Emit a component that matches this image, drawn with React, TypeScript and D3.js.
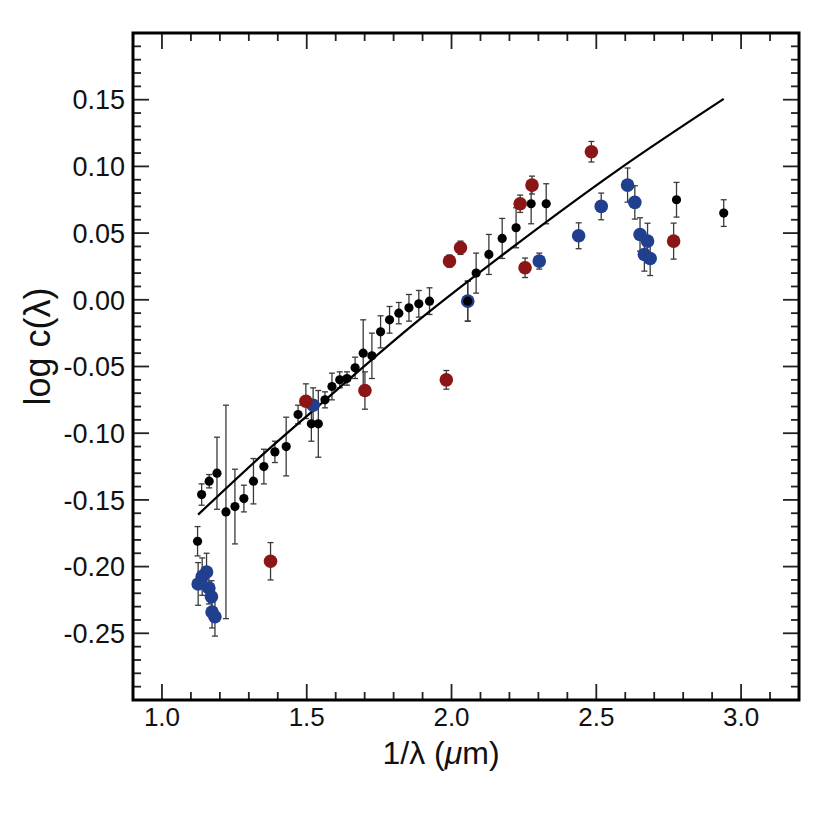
import { useEffect, useRef } from 'react';
import * as d3 from 'd3';

// black points: 1/lambda, log c, error
const blackX = [1.123, 1.137, 1.163, 1.19, 1.221, 1.252, 1.283, 1.316, 1.352, 1.39, 1.429, 1.47, 1.516, 1.54, 1.563, 1.587, 1.614, 1.639, 1.667, 1.695, 1.725, 1.755, 1.786, 1.818, 1.853, 1.887, 1.924, 2.056, 2.085, 2.129, 2.175, 2.223, 2.275, 2.327, 2.777, 2.94];
const blackY = [-0.181, -0.146, -0.136, -0.13, -0.159, -0.155, -0.149, -0.136, -0.125, -0.114, -0.11, -0.086, -0.093, -0.093, -0.075, -0.065, -0.06, -0.059, -0.051, -0.04, -0.042, -0.024, -0.015, -0.01, -0.006, -0.003, -0.001, -0.001, 0.02, 0.034, 0.046, 0.054, 0.072, 0.072, 0.075, 0.065];
const blackErr = [0.011, 0.008, 0.005, 0.027, 0.08, 0.028, 0.01, 0.017, 0.013, 0.008, 0.022, 0.007, 0.013, 0.025, 0.006, 0.01, 0.006, 0.005, 0.008, 0.025, 0.017, 0.012, 0.01, 0.008, 0.01, 0.01, 0.01, 0.015, 0.015, 0.015, 0.015, 0.015, 0.015, 0.015, 0.013, 0.01];

const redX = [1.375, 1.497, 1.701, 1.982, 1.993, 2.031, 2.237, 2.254, 2.278, 2.483, 2.767];
const redY = [-0.196, -0.076, -0.068, -0.06, 0.029, 0.039, 0.072, 0.024, 0.086, 0.111, 0.044];
const redErr = [0.014, 0.013, 0.014, 0.007, 0.0045, 0.005, 0.0065, 0.0073, 0.0067, 0.0077, 0.0135];

const blueX = [1.125, 1.139, 1.154, 1.162, 1.171, 1.173, 1.183, 1.522, 2.056, 2.303, 2.439, 2.517, 2.608, 2.633, 2.651, 2.666, 2.677, 2.686];
const blueY = [-0.213, -0.2075, -0.204, -0.216, -0.2226, -0.234, -0.2376, -0.079, -0.001, 0.029, 0.048, 0.07, 0.086, 0.073, 0.049, 0.034, 0.044, 0.031];
const blueErr = [0.016, 0.014, 0.014, 0.012, 0.012, 0.012, 0.0145, 0.013, 0.015, 0.006, 0.0097, 0.01, 0.0128, 0.0125, 0.0125, 0.0125, 0.0134, 0.0128];

// model curve
const modelX = [1.125, 1.361, 1.533, 1.891, 2.166, 2.579, 2.94];
const modelY = [-0.161, -0.1135, -0.081, -0.0145, 0.032, 0.098, 0.1506];

const xTickLabels = ['1.0', '1.5', '2.0', '2.5', '3.0'];
const yTickLabels = ['0.15', '0.10', '0.05', '0.00', '-0.05', '-0.10', '-0.15', '-0.20', '-0.25'];

const RED = '#8c1616';
const BLUE = '#213f8f';
const FONT = 'Liberation Sans, Arial, Helvetica, sans-serif';

export default function App() {
  const svgRef = useRef<SVGSVGElement>(null);

  useEffect(() => {
    if (!svgRef.current) return;
    const svg = d3.select(svgRef.current);
    svg.selectAll('*').remove();

    const margin = { top: 33, right: 35, bottom: 134, left: 133 };
    const width = 834 - margin.left - margin.right;
    const height = 834 - margin.top - margin.bottom;

    const g = svg.append('g').attr('transform', `translate(${margin.left},${margin.top})`);

    const x = d3.scaleLinear().domain([0.9, 3.2]).range([0, width]);
    const y = d3.scaleLinear().domain([-0.3, 0.2]).range([height, 0]);

    // ticks, inward on all sides
    const ticks = g.append('g').attr('stroke', '#222').attr('stroke-width', 1.8);
    d3.range(9, 32).map((v) => v / 10).forEach((v) => {
      const major = Math.abs(v * 2 - Math.round(v * 2)) < 1e-6;
      const len = major ? 16 : 8;
      const px = x(v);
      if (px <= 1 || px >= width - 1) return;
      ticks.append('line').attr('x1', px).attr('x2', px).attr('y1', height).attr('y2', height - len);
      ticks.append('line').attr('x1', px).attr('x2', px).attr('y1', 0).attr('y2', len);
    });
    d3.range(-30, 21).map((v) => v / 100).forEach((v) => {
      const major = Math.abs(v * 20 - Math.round(v * 20)) < 1e-6;
      const len = major ? 16 : 8;
      const py = y(v);
      if (py <= 1 || py >= height - 1) return;
      ticks.append('line').attr('y1', py).attr('y2', py).attr('x1', 0).attr('x2', len);
      ticks.append('line').attr('y1', py).attr('y2', py).attr('x1', width).attr('x2', width - len);
    });

    // tick labels
    xTickLabels.forEach((t) => {
      g.append('text')
        .attr('x', x(+t))
        .attr('y', height + 26)
        .attr('text-anchor', 'middle')
        .attr('font-family', FONT)
        .attr('font-size', 26)
        .attr('fill', '#111')
        .text(t);
    });
    yTickLabels.forEach((t) => {
      g.append('text')
        .attr('x', -8)
        .attr('y', y(+t))
        .attr('dy', '0.36em')
        .attr('text-anchor', 'end')
        .attr('font-family', FONT)
        .attr('font-size', 27)
        .attr('fill', '#111')
        .text(t);
    });

    // axis titles
    const xt = g.append('text')
      .attr('x', width / 2 - 25)
      .attr('y', height + 64)
      .attr('text-anchor', 'middle')
      .attr('font-family', FONT)
      .attr('font-size', 32)
      .attr('fill', '#111');
    xt.append('tspan').text('1/λ (');
    xt.append('tspan').attr('font-style', 'italic').text('μ');
    xt.append('tspan').text('m)');

    g.append('text')
      .attr('transform', `translate(-83,${height / 2 - 20}) rotate(-90)`)
      .attr('text-anchor', 'middle')
      .attr('font-family', FONT)
      .attr('font-size', 36)
      .attr('fill', '#111')
      .text('log c(λ)');

    // error bars
    const drawErr = (xs: number[], ys: number[], es: number[]) => {
      xs.forEach((xv, i) => {
        const px = x(xv);
        const y1 = y(ys[i] + es[i]);
        const y2 = y(ys[i] - es[i]);
        const eg = g.append('g').attr('stroke', '#3a3a3a').attr('stroke-width', 1.3);
        eg.append('line').attr('x1', px).attr('x2', px).attr('y1', y1).attr('y2', y2);
        eg.append('line').attr('x1', px - 3).attr('x2', px + 3).attr('y1', y1).attr('y2', y1);
        eg.append('line').attr('x1', px - 3).attr('x2', px + 3).attr('y1', y2).attr('y2', y2);
      });
    };
    drawErr(blueX, blueY, blueErr);
    drawErr(redX, redY, redErr);
    drawErr(blackX, blackY, blackErr);

    // model line
    const line = d3.line<number>()
      .x((_d, i) => x(modelX[i]))
      .y((d) => y(d))
      .curve(d3.curveMonotoneX);
    g.append('path')
      .datum(modelY)
      .attr('fill', 'none')
      .attr('stroke', '#000')
      .attr('stroke-width', 2.3)
      .attr('d', line);

    // points
    blueX.forEach((xv, i) => {
      g.append('circle').attr('cx', x(xv)).attr('cy', y(blueY[i])).attr('r', 6.8).attr('fill', BLUE);
    });
    redX.forEach((xv, i) => {
      g.append('circle').attr('cx', x(xv)).attr('cy', y(redY[i])).attr('r', 6.8).attr('fill', RED);
    });
    blackX.forEach((xv, i) => {
      g.append('circle').attr('cx', x(xv)).attr('cy', y(blackY[i])).attr('r', 4.6).attr('fill', '#000');
    });

    // frame
    g.append('rect')
      .attr('x', 0)
      .attr('y', 0)
      .attr('width', width)
      .attr('height', height)
      .attr('fill', 'none')
      .attr('stroke', '#000')
      .attr('stroke-width', 3);
  }, []);

  return (
    <div style={{ position: 'absolute', left: 0, top: 0, background: '#fff' }}>
      <svg ref={svgRef} width={834} height={834} style={{ display: 'block' }} />
    </div>
  );
}
